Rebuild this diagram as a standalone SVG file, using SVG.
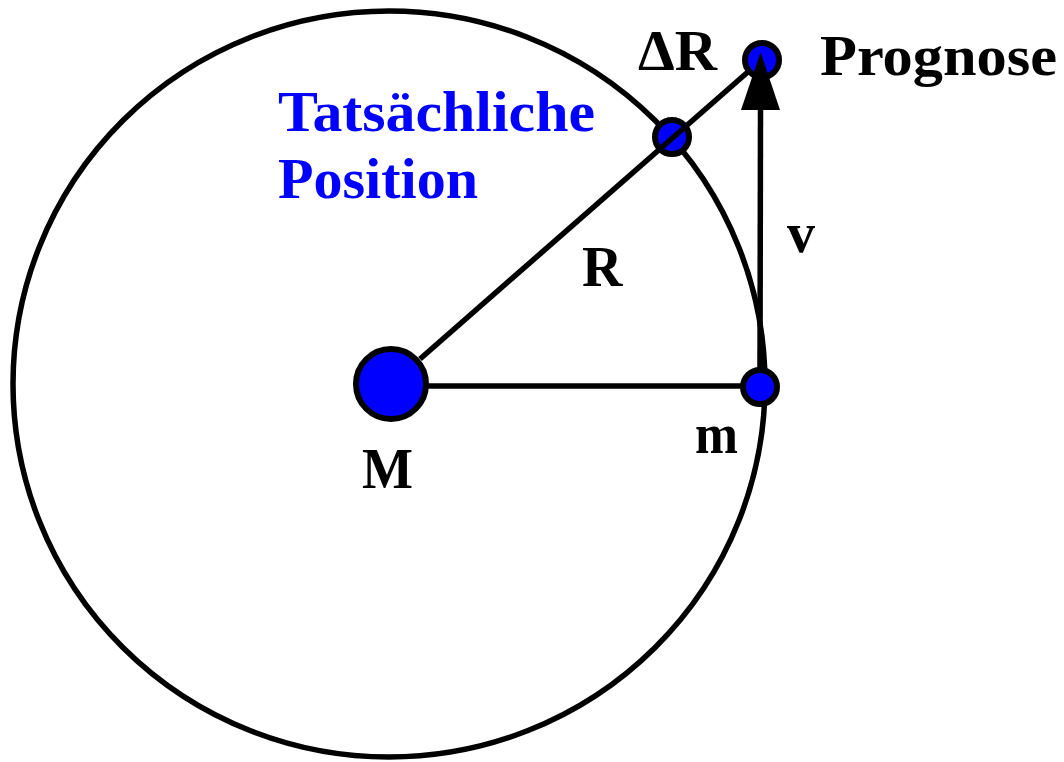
<svg xmlns="http://www.w3.org/2000/svg" width="1064" height="762" viewBox="0 0 1064 762">
  <style>
    .ln { stroke: #000; stroke-width: 5.5; fill: none; }
    .body { fill: #0000ff; stroke: #000; stroke-width: 6; }
    .lbl { font-family: "Liberation Serif", "Times New Roman", serif; font-weight: bold; font-size: 56px; fill: #000; }
    .blue { fill: #0000ff; }
  </style>
  <defs>
    <marker id="arr" markerUnits="userSpaceOnUse" markerWidth="60" markerHeight="42" viewBox="0 -21 60 42" refX="0" refY="0" orient="auto">
      <path d="M0,-19.5 L58,0 L0,19.5 Z" fill="#000"/>
    </marker>
  </defs>
  <rect width="1064" height="762" fill="#fff"/>
  <g id="orbit">
    <ellipse cx="389" cy="384" rx="376" ry="373" class="ln"/>
  </g>
  <g id="M">
    <circle cx="391" cy="384" r="35" class="body"/>
    <text class="lbl" x="362" y="488" textLength="51" lengthAdjust="spacingAndGlyphs">M</text>
  </g>
  <g id="m">
    <circle cx="760" cy="387" r="17" class="body"/>
    <text class="lbl" x="695" y="453" textLength="43" lengthAdjust="spacingAndGlyphs">m</text>
  </g>
  <g id="actual">
    <circle cx="672" cy="137" r="17" class="body"/>
    <text class="lbl blue" x="278" y="131" textLength="317" lengthAdjust="spacingAndGlyphs">Tatsächliche</text>
    <text class="lbl blue" x="278" y="198" textLength="200" lengthAdjust="spacingAndGlyphs">Position</text>
  </g>
  <g id="prognose">
    <circle cx="762" cy="60" r="17" class="body"/>
    <text class="lbl" x="820" y="75" textLength="237" lengthAdjust="spacingAndGlyphs">Prognose</text>
    <text class="lbl" x="638" y="70" textLength="79" lengthAdjust="spacingAndGlyphs">ΔR</text>
  </g>
  <g id="connectors">
    <line x1="420" y1="359" x2="749" y2="71" class="ln"/>
    <line x1="427" y1="386" x2="743" y2="386" class="ln"/>
    <line x1="760" y1="370" x2="760.5" y2="110" class="ln" marker-end="url(#arr)"/>
    <text class="lbl" x="582" y="286">R</text>
    <text class="lbl" x="787" y="252">v</text>
  </g>
</svg>
